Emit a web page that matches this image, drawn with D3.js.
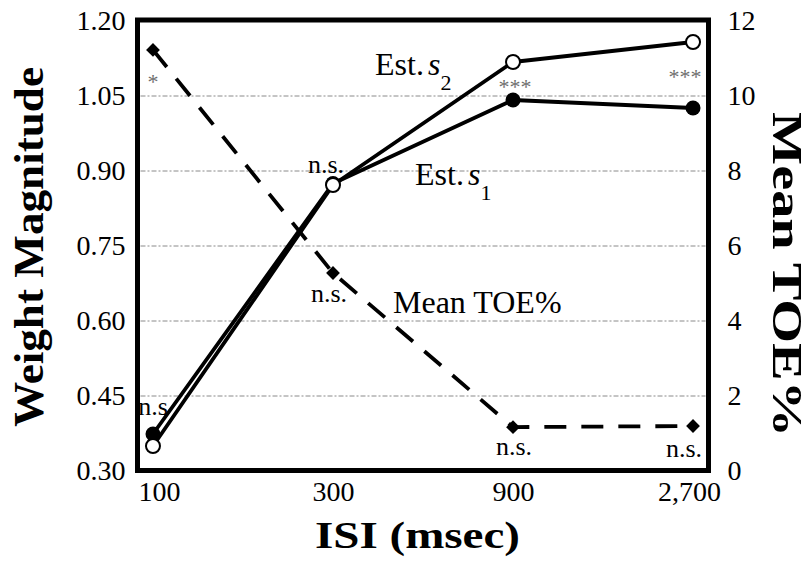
<!DOCTYPE html>
<html>
<head>
<meta charset="utf-8">
<script src="https://cdn.jsdelivr.net/npm/d3@7"></script>
<style>
  html, body { margin: 0; padding: 0; background: #fff; }
  svg { display: block; }
</style>
</head>
<body>
<svg id="chart" width="810" height="566"></svg>
<script>
// ISI conditions (categorical x axis)
const isiLabels = ["100", "300", "900", "2,700"];

// Weight magnitude estimates (left axis)
const estS1 = [0.374, 0.875, 1.042, 1.026];
const estS2 = [0.350, 0.872, 1.118, 1.158];

// Mean TOE% (right axis)
const meanTOE = [11.23, 5.28, 1.17, 1.20];

// Significance markers
const sigEst = ["n.s", "n.s.", "***", "***"];
const sigTOE = ["*", "n.s.", "n.s.", "n.s."];

// Axis ticks
const leftTicks = [0.30, 0.45, 0.60, 0.75, 0.90, 1.05, 1.20];
const rightTicks = [0, 2, 4, 6, 8, 10, 12];
const gridTicks = [0.45, 0.60, 0.75, 0.90, 1.05];

const SERIF = '"Liberation Serif", "Times New Roman", Times, serif';

const svg = d3.select("#chart").style("font-family", SERIF);
const frame = { left: 137.5, right: 708.5, top: 21, bottom: 471 };

const x = d3.scalePoint()
  .domain(isiLabels)
  .range([frame.left, frame.right])
  .padding(0.086);

const yL = d3.scaleLinear().domain([0.30, 1.20]).range([frame.bottom, frame.top]);
const yR = d3.scaleLinear().domain([0, 12]).range([frame.bottom, frame.top]);

// Horizontal dashed gridlines
svg.append("g")
  .selectAll("line")
  .data(gridTicks)
  .join("line")
  .attr("x1", frame.left + 3)
  .attr("x2", frame.right - 3)
  .attr("y1", d => yL(d))
  .attr("y2", d => yL(d))
  .attr("stroke", "#8a8a8a")
  .attr("stroke-width", 1)
  .attr("stroke-dasharray", "5,2,2,2");

// Mean TOE% dashed line
const toeLine = d3.line()
  .x((d, i) => x(isiLabels[i]))
  .y(d => yR(d));

svg.append("path")
  .datum(meanTOE)
  .attr("d", toeLine)
  .attr("fill", "none")
  .attr("stroke", "#000")
  .attr("stroke-width", 3.8)
  .attr("stroke-dasharray", "22,15");

// Weight magnitude lines
const wLine = d3.line()
  .x((d, i) => x(isiLabels[i]))
  .y(d => yL(d));

[estS1, estS2].forEach(series => {
  svg.append("path")
    .datum(series)
    .attr("d", wLine)
    .attr("fill", "none")
    .attr("stroke", "#000")
    .attr("stroke-width", 3.8)
    .attr("stroke-linejoin", "round");
});

// Diamond markers for TOE%
svg.append("g")
  .selectAll("path")
  .data(meanTOE)
  .join("path")
  .attr("d", d3.symbol().type(d3.symbolSquare).size(95))
  .attr("transform", (d, i) => `translate(${x(isiLabels[i])},${yR(d)}) rotate(45)`)
  .attr("fill", "#000");

// Filled circles: Est. s1
svg.append("g")
  .selectAll("circle")
  .data(estS1)
  .join("circle")
  .attr("cx", (d, i) => x(isiLabels[i]))
  .attr("cy", d => yL(d))
  .attr("r", 7.5)
  .attr("fill", "#000");

// Open circles: Est. s2
svg.append("g")
  .selectAll("circle")
  .data(estS2)
  .join("circle")
  .attr("cx", (d, i) => x(isiLabels[i]))
  .attr("cy", d => yL(d))
  .attr("r", 7)
  .attr("fill", "#fff")
  .attr("stroke", "#000")
  .attr("stroke-width", 2);

// Significance labels for weight estimates
const estOffsets = [
  { dx: 0, dy: -19, ref: "s1", size: 26, fill: "#000" },
  { dx: -7, dy: -12, ref: "s2", size: 26, fill: "#000" },
  { dx: 2, dy: 32, ref: "s2", size: 22, fill: "#6e6e6e" },
  { dx: -8, dy: 42, ref: "s2", size: 22, fill: "#6e6e6e" }
];
svg.append("g")
  .selectAll("text")
  .data(sigEst)
  .join("text")
  .attr("x", (d, i) => x(isiLabels[i]) + estOffsets[i].dx)
  .attr("y", (d, i) => {
    const o = estOffsets[i];
    const base = o.ref === "s1" ? yL(estS1[i]) : yL(estS2[i]);
    return base + o.dy;
  })
  .attr("text-anchor", "middle")
  .style("font-size", (d, i) => estOffsets[i].size + "px")
  .attr("fill", (d, i) => estOffsets[i].fill)
  .text(d => d);

// Significance labels for TOE%
const toeOffsets = [
  { dx: 0, dy: 39, size: 22, fill: "#6e6e6e" },
  { dx: -4, dy: 29, size: 26, fill: "#000" },
  { dx: 1, dy: 28, size: 26, fill: "#000" },
  { dx: -9, dy: 31, size: 26, fill: "#000" }
];
svg.append("g")
  .selectAll("text")
  .data(sigTOE)
  .join("text")
  .attr("x", (d, i) => x(isiLabels[i]) + toeOffsets[i].dx)
  .attr("y", (d, i) => yR(meanTOE[i]) + toeOffsets[i].dy)
  .attr("text-anchor", "middle")
  .style("font-size", (d, i) => toeOffsets[i].size + "px")
  .attr("fill", (d, i) => toeOffsets[i].fill)
  .text(d => d);

// Series labels
function seriesLabel(xPos, yPos, sub) {
  const t = svg.append("text")
    .attr("x", xPos)
    .attr("y", yPos)
    .style("font-size", "32px")
    .attr("fill", "#000");
  t.append("tspan").text("Est.");
  t.append("tspan").attr("x", xPos + 53).style("font-style", "italic").text("s");
  t.append("tspan").attr("dy", 15).style("font-size", "22px").text(sub);
}
seriesLabel(375, 75, "2");
seriesLabel(415, 185, "1");

svg.append("text")
  .attr("x", 393)
  .attr("y", 313)
  .style("font-size", "32px")
  .attr("fill", "#000")
  .text("Mean TOE%");

// Plot frame
svg.append("rect")
  .attr("x", frame.left)
  .attr("y", frame.top - 1)
  .attr("width", frame.right - frame.left)
  .attr("height", frame.bottom - frame.top + 0.5)
  .attr("fill", "none")
  .attr("stroke", "#000")
  .attr("stroke-width", 5);

// Axes
const leftAxis = svg.append("g")
  .attr("transform", `translate(${frame.left},0)`)
  .call(d3.axisLeft(yL).tickValues(leftTicks).tickFormat(d3.format(".2f")).tickSize(0).tickPadding(12));

const rightAxis = svg.append("g")
  .attr("transform", `translate(${frame.right},0)`)
  .call(d3.axisRight(yR).tickValues(rightTicks).tickSize(0).tickPadding(19));

const bottomAxis = svg.append("g")
  .attr("transform", `translate(0,${frame.bottom})`)
  .call(d3.axisBottom(x).tickSize(0).tickPadding(10));

[leftAxis, rightAxis, bottomAxis].forEach(g => {
  g.attr("font-family", null).attr("font-size", null)
    .style("font-family", SERIF);
  g.select(".domain").remove();
  g.selectAll("text")
    .style("font-size", "28px")
    .attr("fill", "#000");
});

// Outer category labels sit slightly inward
const xLabelShift = [6, 0, 0, -4];
bottomAxis.selectAll(".tick text")
  .attr("dx", (d, i) => xLabelShift[i]);

// Axis titles
svg.append("text")
  .attr("transform", "translate(43,247) rotate(-90)")
  .attr("text-anchor", "middle")
  .style("font-weight", "bold")
  .style("font-size", "42px")
  .attr("textLength", 360)
  .attr("lengthAdjust", "spacingAndGlyphs")
  .text("Weight Magnitude");

svg.append("text")
  .attr("transform", "translate(773,274.5) rotate(90)")
  .attr("text-anchor", "middle")
  .style("font-weight", "bold")
  .style("font-size", "43px")
  .attr("textLength", 325)
  .attr("lengthAdjust", "spacingAndGlyphs")
  .text("Mean TOE%");

svg.append("text")
  .attr("x", 417.5)
  .attr("y", 548)
  .attr("text-anchor", "middle")
  .style("font-weight", "bold")
  .style("font-size", "38px")
  .attr("textLength", 205)
  .attr("lengthAdjust", "spacingAndGlyphs")
  .text("ISI (msec)");
</script>
</body>
</html>
